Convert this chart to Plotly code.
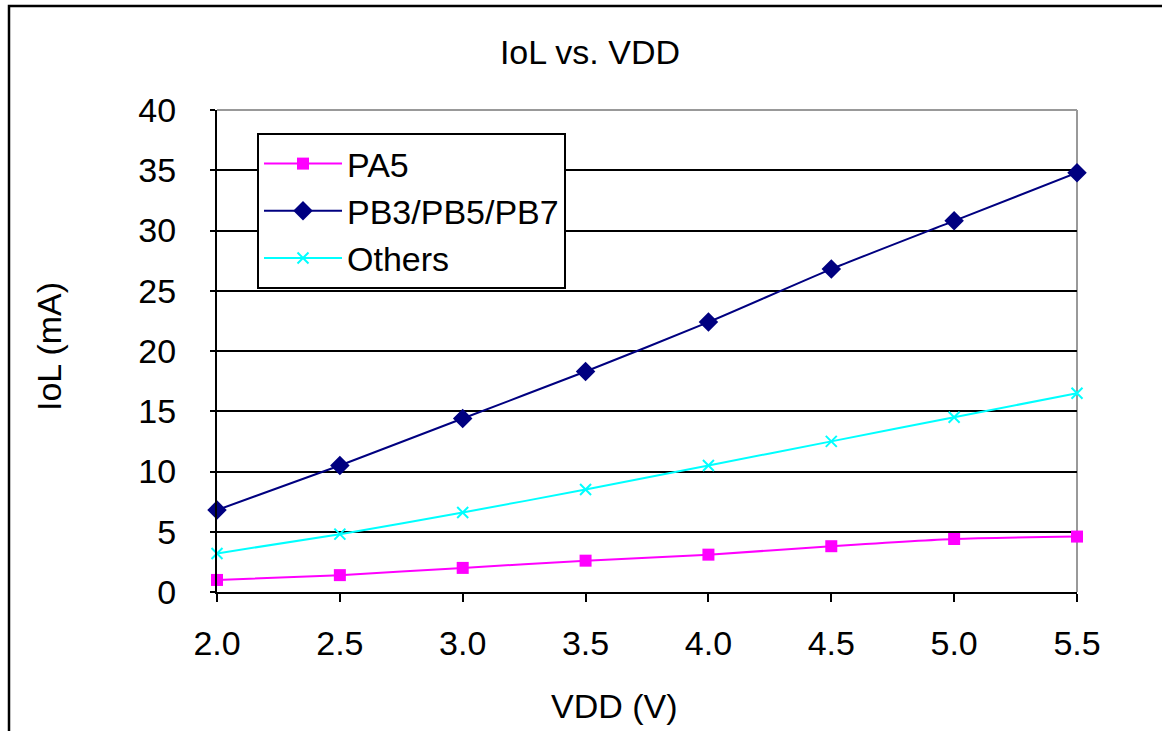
import plotly.graph_objects as go

vdd = [2.0, 2.5, 3.0, 3.5, 4.0, 4.5, 5.0, 5.5]
pa5 = [1.0, 1.4, 2.0, 2.6, 3.1, 3.8, 4.4, 4.6]
pb = [6.8, 10.5, 14.4, 18.3, 22.4, 26.8, 30.8, 34.8]
others = [3.2, 4.8, 6.6, 8.5, 10.5, 12.5, 14.5, 16.5]
xticks = [2.0, 2.5, 3.0, 3.5, 4.0, 4.5, 5.0, 5.5]
xticklabels = ["2.0", "2.5", "3.0", "3.5", "4.0", "4.5", "5.0", "5.5"]
yticks = [0, 5, 10, 15, 20, 25, 30, 35, 40]

FONT = "Arial, Liberation Sans, sans-serif"
FS = 34
L, R, T, B = 217, 1077, 110, 592
W, H = 1162, 731
pw, ph = R - L, B - T

fig = go.Figure()
fig.add_trace(go.Scatter(x=vdd, y=pa5, name="PA5", mode="lines+markers",
                         line=dict(color="#FF00FF", width=2, shape="spline", smoothing=0.6),
                         marker=dict(symbol="square", size=12, color="#FF00FF"),
                         cliponaxis=False))
fig.add_trace(go.Scatter(x=vdd, y=pb, name="PB3/PB5/PB7", mode="lines+markers",
                         line=dict(color="#000080", width=2, shape="spline", smoothing=0.6),
                         marker=dict(symbol="diamond", size=15, color="#000080"),
                         cliponaxis=False))
fig.add_trace(go.Scatter(x=vdd, y=others, name="Others", mode="lines+markers",
                         line=dict(color="#00FFFF", width=2, shape="spline", smoothing=0.6),
                         marker=dict(symbol="x-thin", size=11, line=dict(color="#00FFFF", width=2), color="#00FFFF"),
                         cliponaxis=False))

fig.update_layout(
    width=W, height=H,
    margin=dict(l=L, r=W - R, t=T, b=H - B, autoexpand=False),
    paper_bgcolor="white", plot_bgcolor="white",
    font=dict(family=FONT, size=FS, color="black"),
    title=dict(text="IoL vs. VDD", x=590 / W, xref="container", xanchor="center",
               y=1 - 52 / H, yref="container", yanchor="middle",
               font=dict(family=FONT, size=FS, color="black")),
    showlegend=True,
    legend=dict(x=(257 - L) / pw, y=(B - 133) / ph, xanchor="left", yanchor="top",
                bordercolor="black", borderwidth=2, bgcolor="white",
                font=dict(family=FONT, size=34, color="black"),
                tracegroupgap=0, itemwidth=78),
    xaxis=dict(range=[2.0, 5.5], tickvals=xticks, ticktext=xticklabels,
               showgrid=False, zeroline=False, showline=True, linecolor="black", linewidth=2,
               ticks="outside", ticklen=8, tickwidth=2, tickcolor="black",
               tickfont=dict(family=FONT, size=FS, color="black"), ticklabelstandoff=12),
    yaxis=dict(range=[0, 40], tickvals=yticks, showgrid=True, gridcolor="black", gridwidth=2,
               zeroline=False, showline=True, linecolor="black", linewidth=2,
               ticks="outside", ticklen=5, tickwidth=2, tickcolor="black",
               tickfont=dict(family=FONT, size=FS, color="black"), ticklabelstandoff=27),
    annotations=[
        dict(text="VDD (V)", x=(614 - L) / pw, y=(B - 706) / ph, xref="paper", yref="paper",
             xanchor="center", yanchor="middle", showarrow=False,
             font=dict(family=FONT, size=FS, color="black")),
        dict(text="IoL (mA)", x=(49 - L) / pw, y=(B - 347) / ph, xref="paper", yref="paper",
             xanchor="center", yanchor="middle", showarrow=False, textangle=-90,
             font=dict(family=FONT, size=FS, color="black")),
    ],
    shapes=[
        dict(type="line", xref="paper", yref="paper", x0=0, x1=1, y0=1, y1=1,
             line=dict(color="#999999", width=2), layer="below"),
        dict(type="line", xref="paper", yref="paper", x0=1, x1=1, y0=0, y1=1,
             line=dict(color="#999999", width=2), layer="below"),
        dict(type="rect", xref="paper", yref="paper",
             x0=(9 - L) / pw, x1=1.5, y0=-0.6, y1=(B - 6) / ph,
             line=dict(color="black", width=2.5), fillcolor="rgba(0,0,0,0)", layer="below"),
    ],
)

fig.write_html("out.html", config={"displayModeBar": False},
               post_script="document.body.style.margin='0px';document.body.style.overflow='hidden';")
